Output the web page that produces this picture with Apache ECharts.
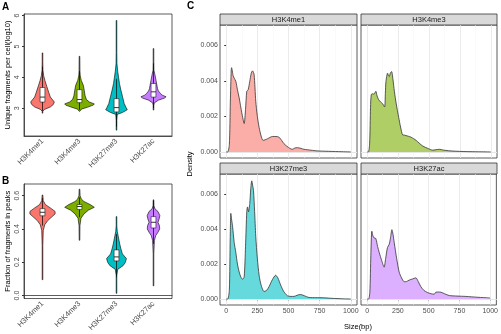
<!DOCTYPE html>
<html>
<head>
<meta charset="utf-8">
<script src="https://cdn.jsdelivr.net/npm/echarts@6/dist/echarts.min.js"></script>
<style>
html,body{margin:0;padding:0;background:#fff}
#main{width:501px;height:334px}
</style>
</head>
<body>
<div id="main"></div>
<script>
var groups = ['H3K4me1', 'H3K4me3', 'H3K27me3', 'H3K27ac'];
var colors = ['#F8766D', '#7CAE00', '#00BFC4', '#C77CFF'];
var lightColors = ['#FBADA7', '#B0CE66', '#66D9DC', '#DDB0FF'];

// A: unique fragments per cell (log10) - violin outline [value, relative density]
var fragK4me1 = [[2.84,0],[2.9,0.02],[2.96,0.13],[3.04,0.53],[3.12,0.73],[3.2,0.8],[3.28,0.67],[3.36,0.53],[3.5,0.43],[3.69,0.3],[3.9,0.16],[4.05,0.08],[4.23,0.03],[4.5,0.02],[4.79,0]];
var fragK4me3 = [[2.9,0],[2.97,0.13],[3.03,0.53],[3.1,0.93],[3.14,1.0],[3.2,0.67],[3.28,0.47],[3.4,0.38],[3.58,0.32],[3.74,0.26],[3.9,0.12],[4.05,0.05],[4.2,0.03],[4.68,0]];
var fragK27me3 = [[2.29,0],[2.6,0.02],[2.8,0.05],[2.86,0.4],[2.95,0.73],[3.02,0.65],[3.15,0.52],[3.35,0.42],[3.58,0.3],[3.8,0.2],[4.0,0.14],[4.2,0.08],[4.44,0.03],[4.8,0.02],[5.84,0]];
var fragK27ac = [[2.94,0],[3.08,0.02],[3.17,0.05],[3.26,0.33],[3.33,0.75],[3.37,0.85],[3.42,0.6],[3.47,0.48],[3.56,0.33],[3.64,0.27],[3.9,0.17],[4.1,0.09],[4.23,0.03],[4.5,0.02],[4.93,0]];
// [lower whisker, q1, median, q3, upper whisker]
var fragBox = [[2.9,3.2,3.36,3.67,4.35],[2.95,3.18,3.28,3.6,4.2],[2.4,2.88,3.02,3.31,3.95],[3.0,3.36,3.53,3.8,4.45]];
var fragTicks = [3, 4, 5, 6];

// B: fraction of fragments in peaks
var fripK4me1 = [[0.095,0],[0.3,0.02],[0.39,0.05],[0.425,0.15],[0.45,0.35],[0.474,0.65],[0.49,0.85],[0.505,0.85],[0.522,0.6],[0.546,0.2],[0.57,0.05],[0.604,0]];
var fripK4me3 = [[0.332,0],[0.42,0.03],[0.464,0.1],[0.49,0.3],[0.513,0.6],[0.53,1.0],[0.545,0.75],[0.565,0.3],[0.58,0.12],[0.6,0.04],[0.639,0]];
var fripK27me3 = [[0.013,0],[0.12,0.02],[0.157,0.08],[0.18,0.45],[0.2,0.6],[0.222,0.67],[0.25,0.4],[0.28,0.3],[0.309,0.22],[0.34,0.15],[0.386,0.05],[0.42,0.02],[0.474,0]];
var fripK27ac = [[0.058,0],[0.25,0.02],[0.33,0.06],[0.36,0.15],[0.38,0.3],[0.4,0.42],[0.42,0.4],[0.44,0.3],[0.46,0.38],[0.48,0.43],[0.505,0.3],[0.52,0.1],[0.54,0.03],[0.575,0]];
var fripBox = [[0.42,0.479,0.5,0.522,0.585],[0.47,0.517,0.535,0.547,0.59],[0.11,0.208,0.232,0.274,0.37],[0.31,0.406,0.44,0.474,0.57]];
var fripTicks = [0, 0.2, 0.4, 0.6];

// C: fragment size density [bp, density x 1e-3]
var sizeK4me1 = [[0,0],[12,0],[25,0.4],[33,2.8],[40,4.6],[43,4.74],[55,4.3],[64,4.15],[77,3.97],[90,3.5],[104,3.04],[125,2.2],[144,1.6],[155,2.4],[165,3.41],[176,3.5],[189,3.97],[200,4.4],[211,4.56],[224,4.34],[237,2.86],[250,2.0],[264,1.38],[280,0.9],[296,0.65],[331,0.74],[371,0.87],[400,0.87],[424,0.83],[445,0.65],[464,0.46],[500,0.25],[531,0.15],[550,0.22],[571,0.24],[600,0.2],[624,0.15],[680,0.1],[731,0.06],[800,0.04],[900,0.02],[1000,0]];
var sizeK4me3 = [[0,0],[10,0],[20,0.5],[27,2.5],[33,3.23],[43,3.27],[55,3.25],[70,3.41],[80,3.15],[92,2.95],[110,2.8],[125,2.71],[141,2.53],[147,3.3],[152,3.97],[165,4.43],[172,4.3],[179,4.24],[188,4.45],[198,4.52],[208,4.1],[220,3.41],[235,2.7],[255,1.94],[270,1.4],[287,0.96],[300,0.95],[314,0.92],[335,0.88],[355,0.83],[375,0.75],[396,0.65],[420,0.5],[450,0.33],[490,0.2],[531,0.1],[550,0.12],[585,0.15],[620,0.1],[694,0.05],[800,0.02],[900,0.01],[1000,0]];
var sizeK27me3 = [[0,0],[12,0],[25,0.5],[32,3.5],[37,4.89],[42,4.6],[51,4.14],[64,3.22],[77,2.66],[90,2.0],[104,1.54],[118,1.25],[131,1.13],[144,1.26],[155,3.0],[165,5.0],[171,5.26],[179,4.98],[189,5.45],[197,6.3],[205,6.75],[212,6.5],[219,6.19],[228,5.0],[237,3.59],[250,2.3],[264,1.36],[280,0.8],[304,0.43],[325,0.5],[344,0.71],[370,1.1],[397,1.36],[415,1.2],[437,0.8],[460,0.45],[491,0.19],[520,0.15],[544,0.15],[570,0.22],[597,0.26],[630,0.18],[664,0.09],[720,0.08],[784,0.07],[850,0.04],[944,0.01],[1000,0]];
var sizeK27ac = [[0,0],[12,0],[22,0.4],[30,2.5],[38,3.87],[47,3.6],[57,3.49],[70,3.46],[85,3.0],[98,2.66],[118,2.2],[138,1.82],[150,2.3],[165,2.94],[179,3.12],[190,3.5],[201,3.96],[210,3.7],[220,3.22],[240,2.3],[260,1.54],[280,1.2],[301,0.99],[320,1.0],[341,1.08],[370,1.15],[396,1.21],[415,1.0],[436,0.71],[460,0.5],[491,0.37],[520,0.3],[545,0.28],[558,0.39],[580,0.4],[599,0.39],[630,0.3],[667,0.2],[730,0.17],[802,0.15],[900,0.1],[992,0.06],[1000,0.05]];
var sizeTicks = [0, 250, 500, 750, 1000];
var sizeMinor = [125, 375, 625, 875];
var densTicks = [0, 0.002, 0.004, 0.006];
var densMinor = [0.001, 0.003, 0.005, 0.007];

var fragProfiles = [fragK4me1, fragK4me3, fragK27me3, fragK27ac];
var fripProfiles = [fripK4me1, fripK4me3, fripK27me3, fripK27ac];
var sizeCurves = [sizeK4me1, sizeK4me3, sizeK27me3, sizeK27ac];

var font = 'Liberation Sans';
var tickColor = '#4D4D4D';

function violin(profiles, boxes, idx) {
    return {
        type: 'custom',
        xAxisIndex: idx, yAxisIndex: idx,
        data: groups.map(function (g, i) { return [i, boxes[i][2]]; }),
        renderItem: function (params, api) {
            var i = api.value(0);
            var band = api.size([1, 0])[0];
            var cx = api.coord([i, 0])[0];
            var maxHalf = band * 0.4;
            var right = [], left = [];
            profiles[i].forEach(function (p) {
                var y = api.coord([i, p[0]])[1];
                var w = Math.max(p[1] * maxHalf, 0.3);
                right.push([cx + w, y]);
                left.unshift([cx - w, y]);
            });
            var b = boxes[i].map(function (v) { return api.coord([i, v])[1]; });
            var bw = band * 0.065;
            return {
                type: 'group',
                children: [
                    {type: 'polygon', shape: {points: right.concat(left)},
                        style: {fill: colors[i], stroke: '#000', lineWidth: 0.6}},
                    {type: 'line', shape: {x1: cx, y1: b[0], x2: cx, y2: b[4]},
                        style: {stroke: '#000', lineWidth: 0.7}},
                    {type: 'rect', shape: {x: cx - bw, y: b[3], width: bw * 2, height: b[1] - b[3]},
                        style: {fill: '#fff', stroke: '#000', lineWidth: 0.5}},
                    {type: 'line', shape: {x1: cx - bw, y1: b[2], x2: cx + bw, y2: b[2]},
                        style: {stroke: '#000', lineWidth: 0.8}}
                ]
            };
        }
    };
}

function catAxis(idx) {
    return {
        type: 'category', gridIndex: idx, data: groups,
        axisLine: {lineStyle: {color: '#333', width: 0.8}},
        axisTick: {alignWithLabel: true, length: 2, lineStyle: {color: '#333'}},
        axisLabel: {rotate: 45, fontSize: 7.5, color: tickColor, fontFamily: font, margin: 4}
    };
}

function valAxis(idx, min, max, ticks, digits, name) {
    return {
        type: 'value', gridIndex: idx, min: min, max: max,
        name: name, nameLocation: 'middle', nameGap: 12, nameRotate: 90,
        nameTextStyle: {fontSize: 7.5, color: '#000', fontFamily: font},
        splitLine: {show: false},
        axisLine: {show: true, lineStyle: {color: '#333', width: 0.8}},
        axisTick: {show: true, length: 2, customValues: ticks, lineStyle: {color: '#333'}},
        axisLabel: {customValues: ticks, rotate: 90, fontSize: 7, color: tickColor, fontFamily: font, margin: 3,
            formatter: function (v) { return v.toFixed(digits); }}
    };
}

var facetGrids = [
    {left: 220, top: 25, width: 137, height: 133},
    {left: 361, top: 25, width: 136, height: 133},
    {left: 220, top: 174, width: 137, height: 131},
    {left: 361, top: 174, width: 136, height: 131}
];

var grids = [
    {left: 24, top: 14, width: 148, height: 122},
    {left: 24, top: 184, width: 148, height: 117}
].concat(facetGrids).map(function (g) {
    g.show = true; g.borderColor = '#333'; g.borderWidth = 0.8; g.backgroundColor = '#fff';
    return g;
});

var xAxes = [catAxis(0), catAxis(1)];
var yAxes = [
    valAxis(0, 2.1, 6.05, fragTicks, 0, 'Unique fragments per cell(log10)'),
    valAxis(1, -0.018, 0.67, fripTicks, 1, 'Fraction of fragments in peaks')
];
var series = [violin(fragProfiles, fragBox, 0), violin(fripProfiles, fripBox, 1)];

function gridLines(vals, key, color, width) {
    return vals.map(function (v) {
        var d = {lineStyle: {color: color, width: width, type: 'solid'}};
        d[key] = v;
        return d;
    });
}

sizeCurves.forEach(function (curve, k) {
    var idx = k + 2;
    var bottom = k >= 2, leftCol = k % 2 === 0;
    xAxes.push({
        type: 'value', gridIndex: idx, min: -50, max: 1050,
        splitLine: {show: false},
        axisLine: {show: false},
        axisTick: {show: bottom, length: 2, customValues: sizeTicks, lineStyle: {color: '#333'}},
        axisLabel: {show: bottom, customValues: sizeTicks, fontSize: 7, color: tickColor, fontFamily: font, margin: 3,
            formatter: function (v) { return String(v); }}
    });
    yAxes.push({
        type: 'value', gridIndex: idx, min: -0.00034, max: 0.00714,
        splitLine: {show: false},
        axisLine: {show: false},
        axisTick: {show: leftCol, length: 2, customValues: densTicks, lineStyle: {color: '#333'}},
        axisLabel: {show: leftCol, customValues: densTicks, fontSize: 7, color: tickColor, fontFamily: font, margin: 2,
            formatter: function (v) { return v.toFixed(3); }}
    });
    series.push({
        type: 'line', xAxisIndex: idx, yAxisIndex: idx, data: [], z: 1, silent: true,
        markLine: {
            silent: true, symbol: 'none', label: {show: false}, animation: false, z: 1,
            data: gridLines(sizeMinor, 'xAxis', '#F4F4F4', 0.5)
                .concat(gridLines(densMinor, 'yAxis', '#F4F4F4', 0.5))
                .concat(gridLines(sizeTicks, 'xAxis', '#E6E6E6', 0.8))
                .concat(gridLines(densTicks, 'yAxis', '#E6E6E6', 0.8))
        }
    });
    series.push({
        type: 'line', xAxisIndex: idx, yAxisIndex: idx, z: 5,
        data: curve.map(function (p) { return [p[0], p[1] / 1000]; }),
        smooth: 0.25, symbol: 'none',
        lineStyle: {color: '#333', width: 0.8},
        areaStyle: {color: lightColors[k], opacity: 1, origin: 0}
    });
});

var strips = [];
facetGrids.forEach(function (g, k) {
    var top = g.top - 11;
    strips.push({type: 'rect', shape: {x: g.left, y: top, width: g.width, height: 11},
        style: {fill: '#D9D9D9', stroke: '#333', lineWidth: 0.8}});
    strips.push({type: 'text', x: g.left + g.width / 2, y: top + 5.5,
        style: {text: groups[k], fontSize: 7.5, fill: '#1A1A1A', fontFamily: font, align: 'center', verticalAlign: 'middle'}});
});

var labels = [
    {type: 'text', x: 2, y: 2, style: {text: 'A', fontSize: 10, fontWeight: 'bold', fill: '#000', fontFamily: font}},
    {type: 'text', x: 2, y: 176, style: {text: 'B', fontSize: 10, fontWeight: 'bold', fill: '#000', fontFamily: font}},
    {type: 'text', x: 187, y: 1, style: {text: 'C', fontSize: 10, fontWeight: 'bold', fill: '#000', fontFamily: font}},
    {type: 'text', x: 190, y: 164, rotation: Math.PI / 2,
        style: {text: 'Density', fontSize: 7.5, fill: '#000', fontFamily: font, align: 'center', verticalAlign: 'middle'}},
    {type: 'text', x: 358, y: 327,
        style: {text: 'Size(bp)', fontSize: 7.5, fill: '#000', fontFamily: font, align: 'center', verticalAlign: 'middle'}}
];

var myChart = echarts.init(document.getElementById('main'));
myChart.setOption({
    animation: false,
    backgroundColor: '#fff',
    grid: grids,
    xAxis: xAxes,
    yAxis: yAxes,
    series: series,
    graphic: strips.concat(labels)
});
</script>
</body>
</html>
